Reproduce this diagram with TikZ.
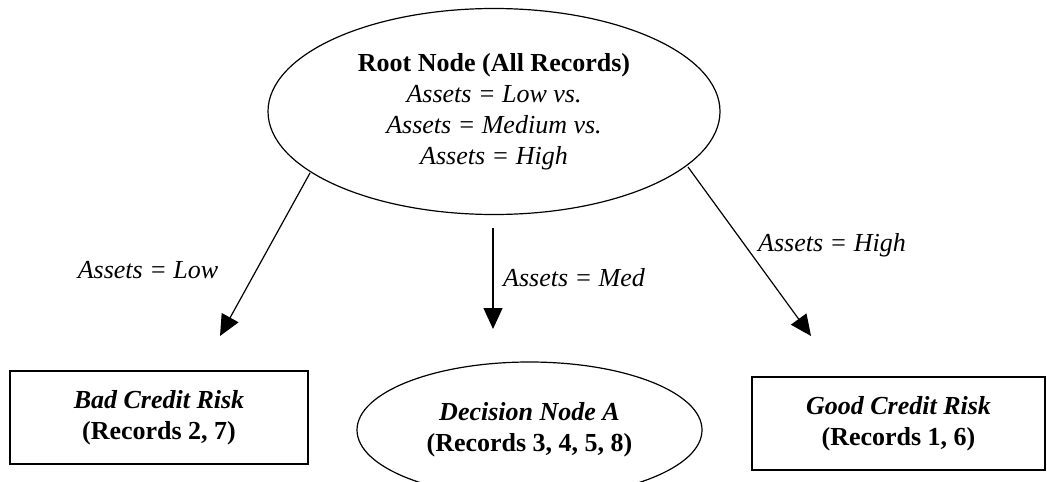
\documentclass[tikz,border=0pt]{standalone}
\usepackage{fontspec}
\setmainfont{Liberation Serif}
\usepackage{tikz}
\usetikzlibrary{arrows.meta,shapes,positioning}
\tikzstyle{arrow} = [line width=0.6pt,-{Triangle[length=10.5pt,width=9.5pt]}]
\tikzstyle{decision} = [ellipse, draw, line width=0.6pt, align=center, inner sep=0pt]
\tikzstyle{leaf} = [rectangle, draw, line width=0.7pt, align=center, minimum width=148pt, minimum height=46.5pt]
\tikzstyle{cond} = [font=\fontsize{13}{15.5}\selectfont\itshape, inner sep=0pt]

\begin{document}
\begin{tikzpicture}[x=0.5pt, y=-0.5pt, font=\fontsize{13}{15.5}\selectfont]
\useasboundingbox (0,0) rectangle (1047,481);

% Root of the tree
\node (root) [decision, minimum width=226pt, minimum height=103pt] at (494,111.5)
  {\textbf{Root Node (All Records)}\\ \textit{Assets = Low vs.}\\ \textit{Assets = Medium vs.}\\ \textit{Assets = High}};

% Children
\node (bad) [leaf, minimum width=149pt] at (159,417.5) {\textbf{\textit{Bad Credit Risk}}\\ \textbf{(Records 2, 7)}};
\node (nodea) [decision, minimum width=172.5pt, minimum height=68pt] at (529.5,430) {\textbf{\textit{Decision Node A}}\\ \textbf{(Records 3, 4, 5, 8)}};
\node (good) [leaf, minimum width=146.5pt] at (898.5,423.5) {\textbf{\textit{Good Credit Risk}}\\ \textbf{(Records 1, 6)}};

% Arrow end points
\coordinate (lowstart) at (310,173);
\coordinate (lowend) at (220,336);
\coordinate (medstart) at (493,228);
\coordinate (medend) at (493,329);
\coordinate (highstart) at (688,167);
\coordinate (highend) at (811,336);

% Branches
\draw[arrow] (lowstart) -- (lowend);
\draw[arrow] (medstart) -- (medend);
\draw[arrow] (highstart) -- (highend);

% Branch labels
\node (lowlbl) [cond] at (148,270) {Assets = Low};
\node (medlbl) [cond] at (574,278) {Assets = Med};
\node (highlbl) [cond] at (832,245) {Assets = High};
\end{tikzpicture}
\end{document}
